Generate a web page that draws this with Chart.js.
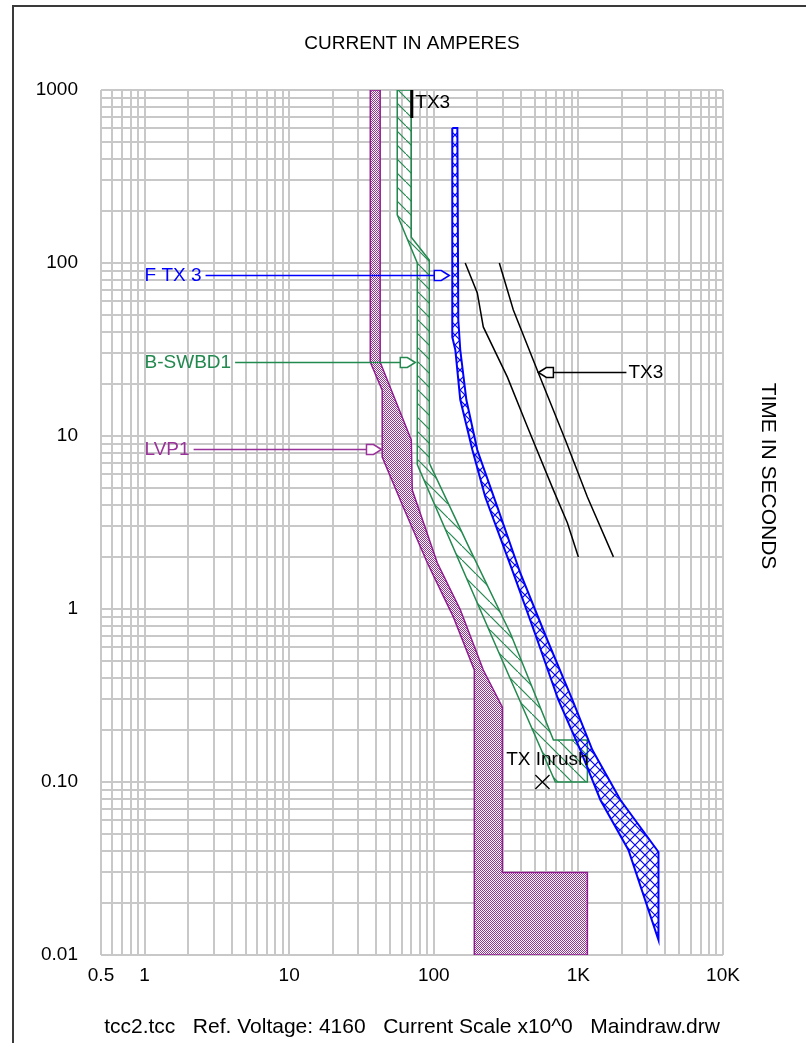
<!DOCTYPE html>
<html>
<head>
<meta charset="utf-8">
<title>tcc2.tcc</title>
<script src="https://cdn.jsdelivr.net/npm/chart.js@4.4.1/dist/chart.umd.min.js"></script>
<style>
  html, body { margin: 0; padding: 0; background: #fff; }
  canvas { display: block; }
</style>
</head>
<body>
<canvas id="tcc" width="806" height="1043"></canvas>
<script>
// axis labels
const xLabelValues = [0.5, 1, 10, 100, 1000, 10000];
const xLabelTexts = ['0.5', '1', '10', '100', '1K', '10K'];
const yLabelValues = [0.01, 0.1, 1, 10, 100, 1000];
const yLabelTexts = ['0.01', '0.10', '1', '10', '100', '1000'];

// LVP1 band, traced round the outline (amps / seconds)
const lvp1Amps = [36.4, 42.6, 42.6, 69.9, 71, 105.7, 152.6, 220, 298, 298, 1154, 1154, 190.7, 190.7, 136.5, 90.2, 61.5, 44, 44, 36.4];
const lvp1Secs = [1000, 1000, 26.7, 9.48, 4.87, 1.85, 0.99, 0.444, 0.271, 0.03, 0.03, 0.01, 0.01, 0.444, 0.9, 1.85, 3.89, 7.56, 18.4, 26.7];

// B-SWBD1 band
const swbdAmps = [55.9, 55.9, 76.9, 76.9, 246, 693, 1154, 1154, 672, 338, 179, 93.1, 93.1, 69.9, 69.9];
const swbdSecs = [1000, 189.5, 100, 6.84, 0.727, 0.1, 0.1, 0.175, 0.175, 0.727, 2.19, 6.98, 104, 141, 1000];

// F TX 3 fuse: min melt going down, total clear coming back up
const fuseAmps = [134.3, 134.3, 141, 152.5, 185, 227, 355, 520, 727, 1032, 1420, 2218, 3580,
                  3580, 1953, 1250, 909, 610, 397, 275, 200, 168, 152.5, 147.8, 145.6];
const fuseSecs = [603, 37.3, 31.4, 16.2, 8.3, 4.44, 1.61, 0.662, 0.298, 0.153, 0.0787, 0.0405, 0.0122,
                  0.0394, 0.0787, 0.153, 0.298, 0.662, 1.61, 3.89, 8.3, 16.2, 31.4, 46.8, 603];

// TX3 damage curves
const tx3Amps = [165, 200, 220, 323, 444, 671, 840, 1000];
const tx3Secs = [100, 67.1, 42.7, 21.9, 11.3, 4.88, 3.14, 2.0];
const tx3ShiftAmps = [284, 355, 529, 813, 1154, 1747];
const tx3ShiftSecs = [100, 53.5, 23.1, 9.48, 4.44, 2.0];
const tx3TopAmps = [70.5, 70.5];
const tx3TopSecs = [1000, 689];

// TX inrush point
const inrushAmps = [564];
const inrushSecs = [0.1];

// device labels on the left with their arrows
const noteNames = ['F TX 3', 'B-SWBD1', 'LVP1'];
const noteColors = ['#0000ff', '#23894f', '#993399'];
const noteSecs = [85.1, 26.8, 8.41];
const noteTextAmps = [1.0, 1.0, 1.0];
const noteTipAmps = [128, 74.5, 43.5];

const footer = 'tcc2.tcc   Ref. Voltage: 4160   Current Scale x10^0   Maindraw.drw';
const fontFamily = '"Liberation Sans", Arial, sans-serif';

const canvas = document.getElementById('tcc');
const ctx = canvas.getContext('2d');

function tilePattern(size, paint) {
  const tile = document.createElement('canvas');
  tile.width = size;
  tile.height = size;
  paint(tile.getContext('2d'), size);
  return ctx.createPattern(tile, 'repeat');
}

const dotFill = tilePattern(2, (g) => {
  g.fillStyle = '#ffffff';
  g.fillRect(0, 0, 2, 2);
  g.fillStyle = '#993399';
  g.fillRect(0, 0, 1, 1);
  g.fillRect(1, 1, 1, 1);
});

const hatchFill = tilePattern(14, (g, s) => {
  g.strokeStyle = '#23894f';
  g.lineWidth = 1.2;
  g.beginPath();
  g.moveTo(-1, -1); g.lineTo(s + 1, s + 1);
  g.stroke();
});

const crossFill = tilePattern(10, (g, s) => {
  g.strokeStyle = '#0000ff';
  g.lineWidth = 1.2;
  g.beginPath();
  g.moveTo(-1, -1); g.lineTo(s + 1, s + 1);
  g.moveTo(s + 1, -1); g.lineTo(-1, s + 1);
  g.stroke();
});

function toPoints(amps, secs, close) {
  const pts = amps.map((a, i) => ({ x: a, y: secs[i] }));
  if (close) pts.push({ x: amps[0], y: secs[0] });
  return pts;
}

function gridValues(lo, hi) {
  const vals = [];
  for (let e = -2; e <= 4; e++) {
    for (let m = 1; m <= 9; m++) {
      const v = +(m * Math.pow(10, e)).toPrecision(3);
      if (v >= lo && v <= hi) vals.push(v);
    }
  }
  return vals;
}

function labelFor(values, texts, v) {
  const i = values.findIndex(lv => Math.abs(Math.log10(lv) - Math.log10(v)) < 1e-6);
  return i >= 0 ? texts[i] : '';
}

function arrowHead(c, tipX, y, dir, color) {
  c.beginPath();
  c.moveTo(tipX, y);
  c.lineTo(tipX - dir * 8, y - 5);
  c.lineTo(tipX - dir * 15, y - 5);
  c.lineTo(tipX - dir * 15, y + 5);
  c.lineTo(tipX - dir * 8, y + 5);
  c.closePath();
  c.fillStyle = '#fff';
  c.fill();
  c.strokeStyle = color;
  c.stroke();
}

const notesPlugin = {
  id: 'tccNotes',
  afterDatasetsDraw(chart) {
    const { ctx: c, scales: { x, y } } = chart;
    c.save();
    c.font = '19px ' + fontFamily;
    c.textBaseline = 'middle';
    c.lineWidth = 1.5;

    noteNames.forEach((name, i) => {
      const py = Math.round(y.getPixelForValue(noteSecs[i])) + 0.5;
      const px = x.getPixelForValue(noteTextAmps[i]);
      const tip = x.getPixelForValue(noteTipAmps[i]);
      c.fillStyle = noteColors[i];
      c.textAlign = 'left';
      c.fillText(name, px, py);
      const start = px + c.measureText(name).width + 4;
      c.strokeStyle = noteColors[i];
      c.beginPath();
      c.moveTo(start, py);
      c.lineTo(tip - 15, py);
      c.stroke();
      arrowHead(c, tip, py, 1, noteColors[i]);
    });

    // TX3 note on the right, arrow pointing left
    const ty = Math.round(y.getPixelForValue(23.4)) + 0.5;
    const tTip = x.getPixelForValue(529);
    const tText = x.getPixelForValue(2218);
    c.strokeStyle = '#000';
    c.beginPath();
    c.moveTo(tTip + 15, ty);
    c.lineTo(tText - 2, ty);
    c.stroke();
    arrowHead(c, tTip, ty, -1, '#000');
    c.fillStyle = '#000';
    c.fillText('TX3', tText, ty);

    // TX3 label at the top
    c.fillText('TX3', x.getPixelForValue(74.5), y.getPixelForValue(841));

    // TX inrush label
    c.textAlign = 'center';
    c.fillText('TX Inrush', x.getPixelForValue(610), y.getPixelForValue(0.134));
    c.restore();
  },
  afterDraw(chart) {
    const c = chart.ctx;
    c.save();
    c.fillStyle = '#000';
    c.font = '21px ' + fontFamily;
    c.textAlign = 'center';
    c.textBaseline = 'middle';
    c.translate(768, 476);
    c.rotate(Math.PI / 2);
    c.fillText('TIME IN SECONDS', 0, 0);
    c.restore();

    // window frame
    c.save();
    c.strokeStyle = '#3a3a3a';
    c.lineWidth = 2;
    c.beginPath();
    c.moveTo(13, 1043);
    c.lineTo(13, 6);
    c.lineTo(806, 6);
    c.stroke();
    c.restore();
  }
};

Chart.defaults.font.family = fontFamily;
Chart.defaults.font.size = 19;
Chart.defaults.color = '#000';

new Chart(ctx, {
  type: 'line',
  data: {
    datasets: [
      {
        label: 'TX Inrush',
        data: toPoints(inrushAmps, inrushSecs, false),
        showLine: false,
        pointStyle: 'crossRot',
        pointRadius: 10,
        borderColor: '#000',
        borderWidth: 1.3
      },
      {
        label: 'TX3 top',
        data: toPoints(tx3TopAmps, tx3TopSecs, false),
        borderColor: '#000',
        borderWidth: 3,
        pointRadius: 0
      },
      {
        label: 'TX3',
        data: toPoints(tx3Amps, tx3Secs, false),
        borderColor: '#000',
        borderWidth: 1.5,
        pointRadius: 0
      },
      {
        label: 'TX3 x1.73',
        data: toPoints(tx3ShiftAmps, tx3ShiftSecs, false),
        borderColor: '#000',
        borderWidth: 1.5,
        pointRadius: 0
      },
      {
        label: 'F TX 3',
        data: toPoints(fuseAmps, fuseSecs, true),
        borderColor: '#0000ff',
        backgroundColor: crossFill,
        borderWidth: 2,
        pointRadius: 0,
        fill: 'shape'
      },
      {
        label: 'B-SWBD1',
        data: toPoints(swbdAmps, swbdSecs, true),
        borderColor: '#23894f',
        backgroundColor: hatchFill,
        borderWidth: 1.5,
        pointRadius: 0,
        fill: 'shape'
      },
      {
        label: 'LVP1',
        data: toPoints(lvp1Amps, lvp1Secs, true),
        borderColor: '#8e1e8e',
        backgroundColor: dotFill,
        borderWidth: 1.5,
        pointRadius: 0,
        fill: 'shape'
      }
    ]
  },
  options: {
    responsive: false,
    animation: false,
    events: [],
    layout: { padding: { left: 0, top: 0, right: 83, bottom: 0 } },
    elements: { line: { tension: 0 } },
    plugins: {
      legend: { display: false },
      tooltip: { enabled: false },
      title: {
        display: true,
        text: 'CURRENT IN AMPERES',
        fullSize: false,
        font: { size: 19, weight: 'normal' },
        color: '#000',
        padding: { top: 32, bottom: 35.2 }
      },
      subtitle: {
        display: true,
        text: footer,
        position: 'bottom',
        fullSize: false,
        font: { size: 21, weight: 'normal' },
        color: '#000',
        padding: { top: 0, bottom: 3.5 }
      }
    },
    scales: {
      x: {
        type: 'logarithmic',
        position: 'bottom',
        min: 0.5,
        max: 10000,
        afterBuildTicks: (s) => { s.ticks = gridValues(0.5, 10000).map(value => ({ value })); },
        afterFit: (s) => { s.height = 88 - 28.7; },
        ticks: {
          autoSkip: false,
          maxRotation: 0,
          padding: 9,
          color: '#000',
          callback: (v) => labelFor(xLabelValues, xLabelTexts, v)
        },
        grid: { color: '#c8c8c8', lineWidth: 2, drawTicks: false },
        border: { display: false }
      },
      y: {
        type: 'logarithmic',
        position: 'left',
        min: 0.01,
        max: 1000,
        afterBuildTicks: (s) => { s.ticks = gridValues(0.01, 1000).map(value => ({ value })); },
        afterFit: (s) => { s.width = 101; },
        ticks: {
          autoSkip: false,
          padding: 23,
          color: '#000',
          callback: (v) => labelFor(yLabelValues, yLabelTexts, v)
        },
        grid: { color: '#c8c8c8', lineWidth: 2, drawTicks: false },
        border: { display: false }
      }
    }
  },
  plugins: [notesPlugin]
});
</script>
</body>
</html>
